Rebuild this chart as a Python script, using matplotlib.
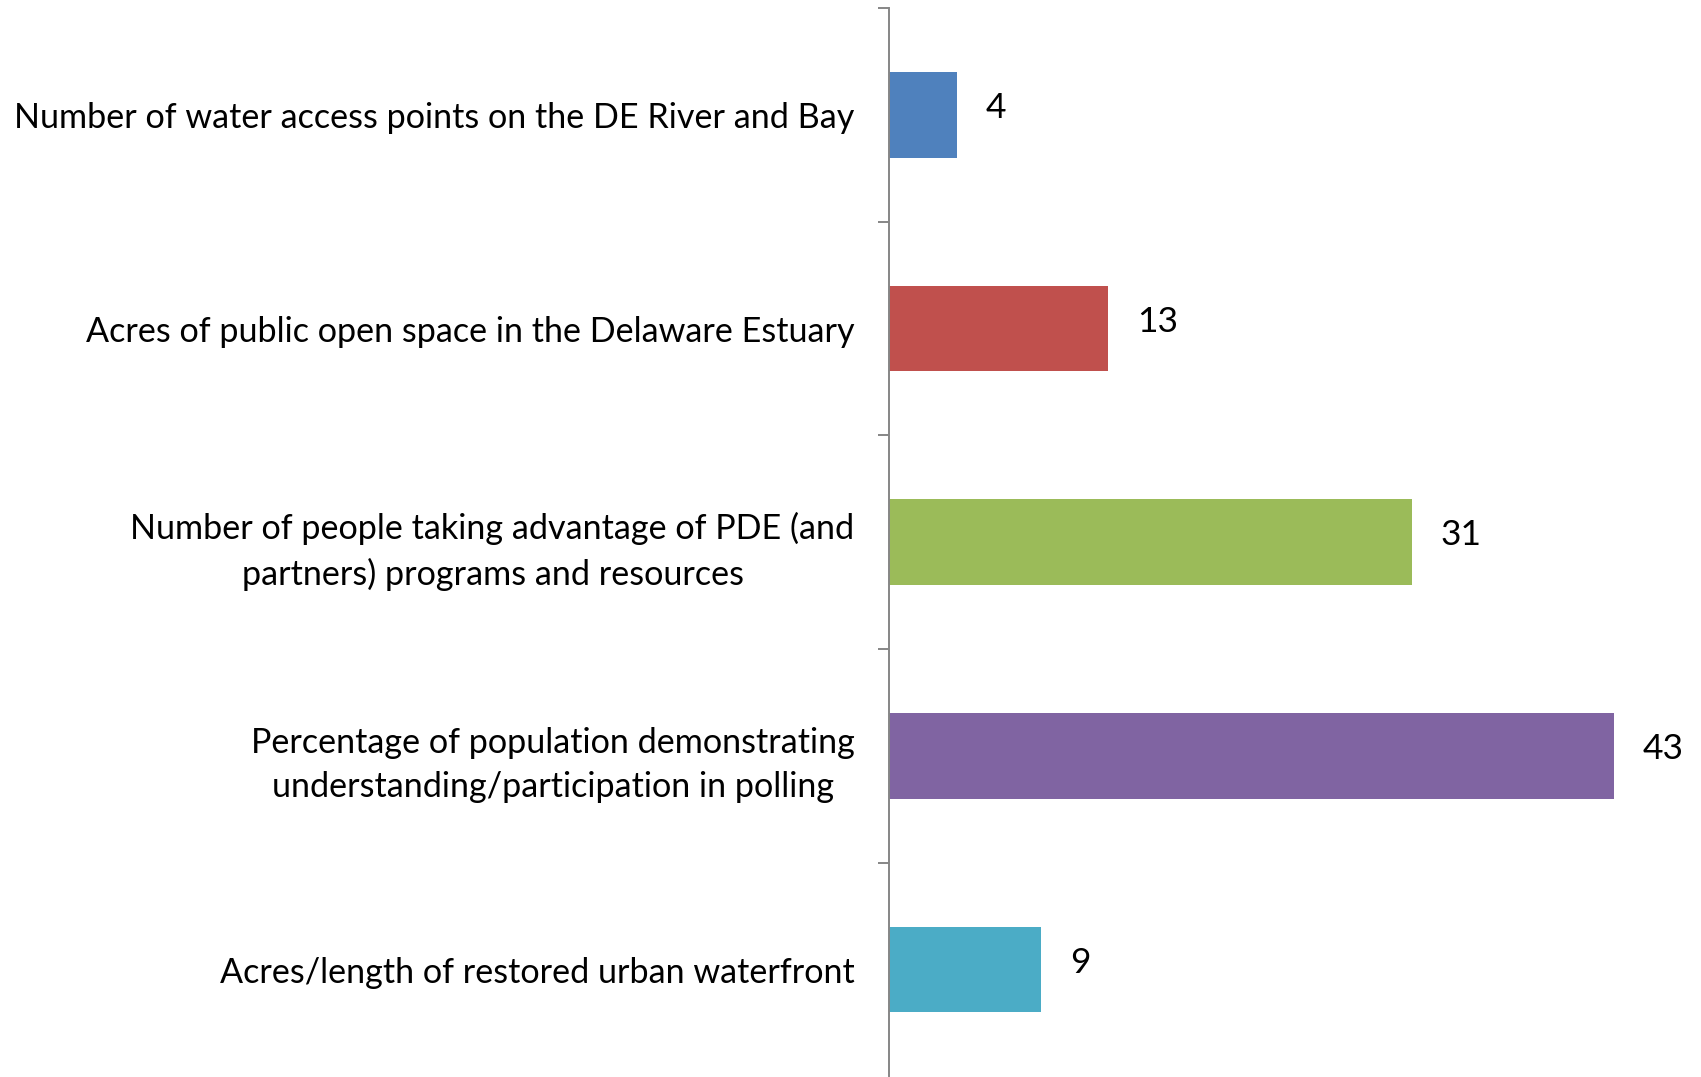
import matplotlib
matplotlib.use('Agg')
import matplotlib.pyplot as plt

# dados do gráfico
categorias = [
    'Number of water access points on the DE River and Bay',
    'Acres of public open space in the Delaware Estuary',
    'Number of people taking advantage of PDE (and\npartners) programs and resources',
    'Percentage of population demonstrating\nunderstanding/participation in polling',
    'Acres/length of restored urban waterfront',
]
valores = [4, 13, 31, 43, 9]
cores = ['#4F81BD', '#C0504D', '#9BBB59', '#8064A2', '#4BACC6']

plt.rcParams['font.family'] = ['Lato', 'DejaVu Sans']
fs = 24.6

fig = plt.figure(figsize=(17.01, 10.77), dpi=100)
ax = fig.add_axes([889.3 / 1701, 0.0005, 808.8 / 1701, 1068.5 / 1077])

pos = list(range(len(categorias)))
ax.barh(pos, valores, height=0.4, color=cores)
ax.set_xlim(0, 48)
ax.set_ylim(4.5, -0.5)

# rótulos das categorias
ax.set_yticks(pos)
ax.set_yticklabels(categorias, fontsize=fs, multialignment='center', linespacing=1.48)
ax.tick_params(axis='y', which='major', length=0, pad=25)
ax.set_yticks([p - 0.5 for p in pos], minor=True)
ax.tick_params(axis='y', which='minor', length=8, width=1.4, color='#868686', direction='out')
ax.set_xticks([])

for s in ['top', 'right', 'bottom']:
    ax.spines[s].set_visible(False)
ax.spines['left'].set_color('#868686')
ax.spines['left'].set_linewidth(1.4)

# valores ao lado das barras
for i, v in enumerate(valores):
    ax.annotate(str(v), xy=(v, i), xytext=(21, 5), textcoords='offset points',
                ha='left', va='center', fontsize=25.5)

fig.savefig('out.png', dpi=100)
